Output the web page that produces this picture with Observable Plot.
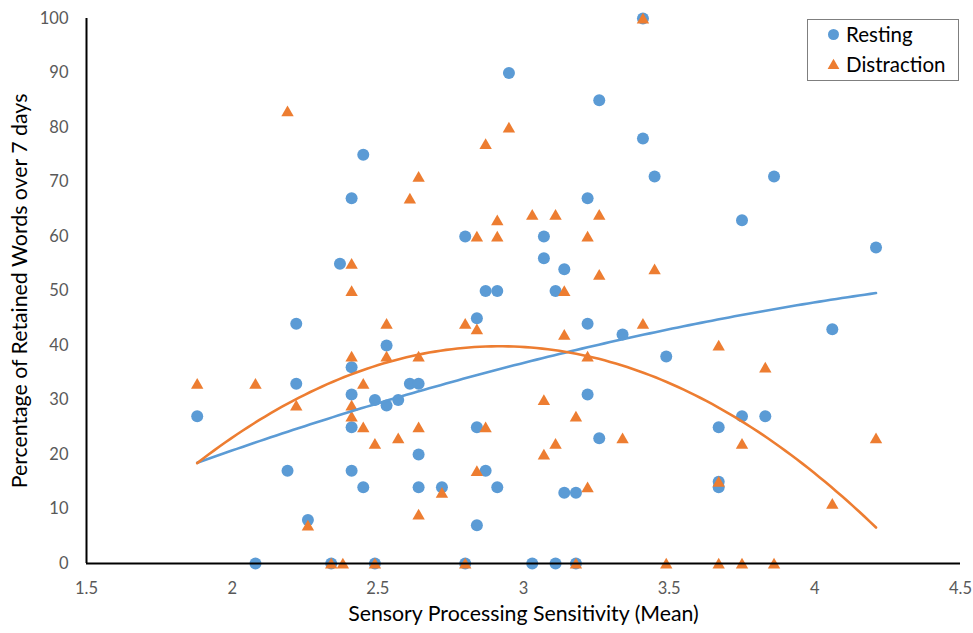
<!DOCTYPE html>
<html><head><meta charset="utf-8">
<script src="https://cdn.jsdelivr.net/npm/d3@7"></script>
<script src="https://cdn.jsdelivr.net/npm/@observablehq/plot@0.6"></script>
<style>
html,body{margin:0;padding:0;background:#fff;}
#wrap{position:relative;width:973px;height:633px;font-family:Lato,"Open Sans",sans-serif;}
#legend{position:absolute;left:807px;top:19px;width:152px;height:62px;border:1px solid #7f7f7f;box-sizing:border-box;background:#fff;}
.item{position:absolute;left:19px;height:24px;display:flex;align-items:center;font-size:20.5px;color:#000;white-space:nowrap;}
.item svg{margin-right:6px;}
</style></head><body><div id="wrap"></div>
<script>
// Resting (blue circles)
const restingX = [1.88,2.08,2.19,2.22,2.22,2.26,2.34,2.37,2.41,2.41,2.41,2.41,2.41,2.45,2.45,2.49,2.49,2.53,2.53,2.57,2.61,2.64,2.64,2.64,2.72,2.80,2.80,2.84,2.84,2.84,2.87,2.87,2.91,2.91,2.95,3.03,3.07,3.07,3.11,3.11,3.14,3.14,3.18,3.18,3.22,3.22,3.22,3.26,3.26,3.34,3.41,3.41,3.45,3.49,3.67,3.67,3.67,3.75,3.75,3.83,3.86,4.06,4.21];
const restingY = [27,0,17,44,33,8,0,55,67,36,31,25,17,75,14,30,0,40,29,30,33,33,20,14,14,60,0,45,25,7,50,17,50,14,90,0,60,56,50,0,54,13,13,0,67,44,31,85,23,42,100,78,71,38,25,15,14,63,27,27,71,43,58];
// Distraction (orange triangles)
const distractionX = [1.88,2.08,2.19,2.22,2.26,2.34,2.38,2.41,2.41,2.41,2.41,2.41,2.45,2.45,2.49,2.49,2.53,2.53,2.57,2.61,2.64,2.64,2.64,2.64,2.72,2.80,2.80,2.84,2.84,2.84,2.87,2.87,2.91,2.91,2.95,3.03,3.07,3.07,3.11,3.11,3.14,3.14,3.18,3.18,3.22,3.22,3.22,3.26,3.26,3.34,3.41,3.41,3.45,3.49,3.67,3.67,3.67,3.75,3.75,3.83,3.86,4.06,4.21];
const distractionY = [33,33,83,29,7,0,0,55,50,38,29,27,33,25,22,0,44,38,23,67,71,38,25,9,13,44,0,60,43,17,77,25,63,60,80,64,30,20,64,22,50,42,27,0,60,38,14,64,53,23,100,44,54,0,40,15,0,22,0,36,0,11,23];
const seriesNames = ["Resting","Distraction"];
const seriesColors = ["#5B9BD5","#ED7D31"];
const xTicks = [1.5,2,2.5,3,3.5,4,4.5];
const yTicks = [0,10,20,30,40,50,60,70,80,90,100];
const xTitle = "Sensory Processing Sensitivity (Mean)";
const yTitle = "Percentage of Retained Words over 7 days";

// Second-order polynomial least-squares trendline (as in the spreadsheet's trendline)
function polyfit2(xs, ys) {
  let n = xs.length, s1=0,s2=0,s3=0,s4=0,t0=0,t1=0,t2=0;
  for (let i=0;i<n;i++){const x=xs[i],y=ys[i];s1+=x;s2+=x*x;s3+=x*x*x;s4+=x*x*x*x;t0+=y;t1+=x*y;t2+=x*x*y;}
  const M=[[n,s1,s2,t0],[s1,s2,s3,t1],[s2,s3,s4,t2]];
  for (let c=0;c<3;c++){
    let p=c; for(let r=c+1;r<3;r++) if(Math.abs(M[r][c])>Math.abs(M[p][c])) p=r;
    [M[c],M[p]]=[M[p],M[c]];
    for(let r=0;r<3;r++){ if(r===c) continue; const f=M[r][c]/M[c][c]; for(let k=c;k<4;k++) M[r][k]-=f*M[c][k]; }
  }
  return [M[0][3]/M[0][0], M[1][3]/M[1][1], M[2][3]/M[2][2]];
}
function trend(xs, ys) {
  const [a,b,c] = polyfit2(xs, ys);
  const lo = d3.min(xs), hi = d3.max(xs);
  return d3.range(0, 121).map(i => { const x = lo + (hi-lo)*i/120; return {x, y: a + b*x + c*x*x}; });
}
const resting = restingX.map((x,i)=>({x, y: restingY[i]}));
const distraction = distractionX.map((x,i)=>({x, y: distractionY[i]}));

const font = 'Lato,"Open Sans",sans-serif';
const chart = Plot.plot({
  width: 973, height: 633,
  marginLeft: 86, marginRight: 13, marginTop: 18, marginBottom: 70,
  style: {fontFamily: font, fontSize: "16.5px", color: "#595959", background: "#fff", overflow: "visible"},
  x: {domain: [1.5, 4.5], ticks: xTicks, tickFormat: d => String(d), tickSize: 0, tickPadding: 19, label: null},
  y: {domain: [0, 100], ticks: yTicks, tickFormat: d => String(d), tickSize: 0, tickPadding: 18, label: null},
  marks: [
    Plot.dot(resting, {x: "x", y: "y", r: 6, fill: seriesColors[0]}),
    Plot.dot(distraction, {x: "x", y: "y", r: 4.6, symbol: "triangle", fill: seriesColors[1], dy: 1.5}),
    Plot.line(trend(restingX, restingY), {x: "x", y: "y", stroke: seriesColors[0], strokeWidth: 2.6}),
    Plot.line(trend(distractionX, distractionY), {x: "x", y: "y", stroke: seriesColors[1], strokeWidth: 2.6}),
    Plot.ruleX([1.5], {stroke: "#000", strokeWidth: 2}),
    Plot.ruleY([0], {stroke: "#000", strokeWidth: 2}),
    Plot.text([xTitle], {frameAnchor: "bottom", dy: 57, text: d => d, fill: "#000", fontSize: 21.3, textAnchor: "middle"}),
    Plot.text([yTitle], {frameAnchor: "left", dx: -66, rotate: -90, text: d => d, fill: "#000", fontSize: 21.3, textAnchor: "middle"})
  ]
});
const wrap = document.getElementById("wrap");
wrap.appendChild(chart);

const legend = document.createElement("div");
legend.id = "legend";
const tri = d3.symbol(d3.symbolTriangle, 60)();
legend.innerHTML = seriesNames.map((name, i) => {
  const marker = i === 0
    ? `<svg width="13" height="13"><circle cx="6.5" cy="6.5" r="5.5" fill="${seriesColors[0]}"/></svg>`
    : `<svg width="13" height="13"><path transform="translate(6.5,7.5)" d="${tri}" fill="${seriesColors[1]}"/></svg>`;
  return `<div class="item" style="top:${2 + i*30}px">${marker}<span>${name}</span></div>`;
}).join("");
wrap.appendChild(legend);
</script>
</body></html>
